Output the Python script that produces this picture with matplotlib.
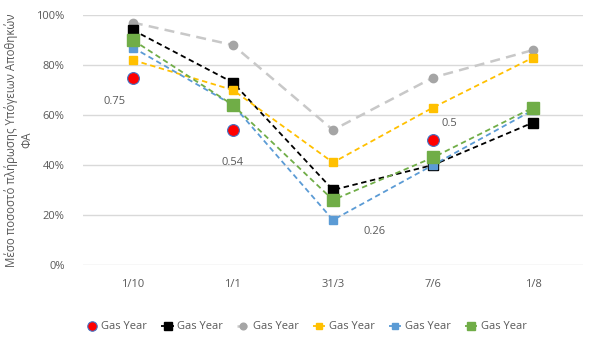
import matplotlib
matplotlib.use("Agg")
import matplotlib.pyplot as plt
from matplotlib.ticker import PercentFormatter

plt.rcParams['font.family'] = ['Open Sans', 'DejaVu Sans']

# --- data ---
dates = ["1/10", "1/1", "31/3", "7/6", "1/8"]
avg_year = [0.75, 0.54, 0.26, 0.50, None]      # red points, labelled
black_year = [0.94, 0.73, 0.30, 0.40, 0.57]
gray_year = [0.97, 0.88, 0.54, 0.75, 0.86]
yellow_year = [0.82, 0.70, 0.41, 0.63, 0.83]
blue_year = [0.87, 0.64, 0.18, 0.40, 0.62]
green_year = [0.90, 0.64, 0.26, 0.43, 0.63]
series_label = "Gas Year"
ylabel = "Μέσο ποσοστό πλήρωσης Υπόγειων Αποθηκών\nΦΑ"

text_col = "#595959"

fig = plt.figure(figsize=(6, 3.5), dpi=100)
ax = fig.add_axes([0.138, 0.243, 0.834, 0.714])
x = list(range(len(dates)))

# red: markers only
rx = [i for i, v in zip(x, avg_year) if v is not None]
ry = [v for v in avg_year if v is not None]
ax.plot(rx, ry, linestyle="none", marker="o", markersize=8.5,
        markerfacecolor="#ff0000", markeredgecolor="#4472c4", markeredgewidth=0.8,
        label=series_label, zorder=3)

ax.plot(x, black_year, color="black", linestyle=(0, (3, 2)), linewidth=1.3,
        marker="s", markersize=7, label=series_label, zorder=4)
ax.plot(x, gray_year, color="#c8c8c8", linestyle=(0, (4, 2.5)), linewidth=1.8,
        marker="o", markersize=6, markerfacecolor="#a5a5a5", markeredgecolor="#a5a5a5",
        label=series_label, zorder=3)
ax.plot(x, yellow_year, color="#ffc000", linestyle=(0, (3, 2)), linewidth=1.3,
        marker="s", markersize=6, label=series_label, zorder=4)
ax.plot(x, blue_year, color="#5b9bd5", linestyle=(0, (3, 2)), linewidth=1.3,
        marker="s", markersize=6, label=series_label, zorder=4)
ax.plot(x, green_year, color="#70ad47", linestyle=(0, (3, 2)), linewidth=1.3,
        marker="s", markersize=8, label=series_label, zorder=5)

# data labels for red series
offsets = [(-18, -24), (0, -32), (42, -32), (16, 16)]
for (xi, yi), off in zip(zip(rx, ry), offsets):
    ax.annotate(f"{yi:g}", (xi, yi), xytext=off, textcoords="offset pixels",
                ha="center", va="center", fontsize=8, color=text_col)

ax.set_xlim(-0.5, len(dates) - 0.5)
ax.set_ylim(0, 1)
ax.set_xticks(x)
ax.set_xticklabels(dates)
ax.set_yticks([0, 0.2, 0.4, 0.6, 0.8, 1.0])
ax.yaxis.set_major_formatter(PercentFormatter(1.0, decimals=0))
ax.grid(axis="y", color="#d9d9d9", linewidth=1)
ax.set_axisbelow(True)
for s in ax.spines.values():
    s.set_visible(False)
ax.tick_params(length=0, labelsize=8, labelcolor=text_col)
ax.tick_params(axis="y", pad=13)
ax.tick_params(axis="x", pad=10)
ax.set_ylabel(ylabel, fontsize=8.3, color=text_col, labelpad=2, linespacing=1.25)

fig.legend(loc="center", bbox_to_anchor=(0.51, 0.066), ncol=6, frameon=False,
           fontsize=8, labelcolor=text_col, handlelength=1.1, handletextpad=0.3,
           columnspacing=1.3, markerscale=0.8)

fig.savefig("out.png", dpi=100)
